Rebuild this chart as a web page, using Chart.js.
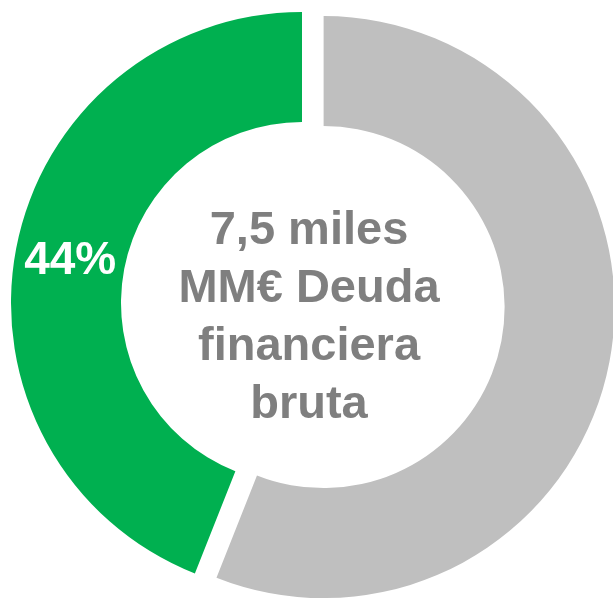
<!DOCTYPE html>
<html>
<head>
<meta charset="utf-8">
<script src="https://cdn.jsdelivr.net/npm/chart.js@4/dist/chart.umd.min.js"></script>
<style>
  html, body { margin: 0; padding: 0; background: #ffffff; }
  #wrap { width: 613px; height: 599px; position: relative; }
</style>
</head>
<body>
<div id="wrap"><canvas id="c"></canvas></div>
<script>
// Gross financial debt split (percent)
const categories = ['Tramo A', 'Tramo B'];
const shares = [44, 56];
const shownLabels = ['44%', ''];
const centerLines = ['7,5 miles', 'MM€ Deuda', 'financiera', 'bruta'];

const sliceColors = ['#00B050', '#BFBFBF'];
// how far each segment is pulled out from the centre, in px
const sliceShift = [0, 22];

// pull segments outward along their mid-angle without enlarging them
const explode = {
  id: 'explode',
  afterUpdate(chart) {
    const meta = chart.getDatasetMeta(0);
    meta.data.forEach((arc, i) => {
      const d = sliceShift[i];
      if (!d || arc._shifted) return;
      const baseDraw = arc.draw;
      arc.draw = function (ctx, area) {
        const mid = (this.startAngle + this.endAngle) / 2;
        ctx.save();
        ctx.translate(Math.cos(mid) * d, Math.sin(mid) * d);
        baseDraw.call(this, ctx, area);
        ctx.restore();
      };
      arc._shifted = true;
    });
  }
};

// value label inside each ring segment
const sliceLabels = {
  id: 'sliceLabels',
  afterDatasetsDraw(chart) {
    const ctx = chart.ctx;
    const meta = chart.getDatasetMeta(0);
    ctx.save();
    ctx.font = 'bold 46px "Liberation Sans", Arial, sans-serif';
    ctx.fillStyle = '#ffffff';
    ctx.textAlign = 'center';
    ctx.textBaseline = 'middle';
    meta.data.forEach((arc, i) => {
      if (!shownLabels[i]) return;
      const p = arc.tooltipPosition();
      ctx.fillText(shownLabels[i], p.x, p.y + 3);
    });
    ctx.restore();
  }
};

// title text in the hole of the ring
const centerText = {
  id: 'centerText',
  afterDraw(chart) {
    const ctx = chart.ctx;
    ctx.save();
    ctx.font = 'bold 47px "Liberation Sans", Arial, sans-serif';
    ctx.fillStyle = '#7F7F7F';
    ctx.textAlign = 'center';
    ctx.textBaseline = 'alphabetic';
    const lh = 58;
    const firstBase = 244;
    centerLines.forEach((t, i) => ctx.fillText(t, 309, firstBase + i * lh));
    ctx.restore();
  }
};

new Chart(document.getElementById('c'), {
  type: 'doughnut',
  data: {
    labels: categories,
    datasets: [{
      data: shares,
      backgroundColor: sliceColors,
      borderWidth: 0
    }]
  },
  options: {
    responsive: true,
    maintainAspectRatio: false,
    animation: false,
    rotation: 201.6,
    radius: 291,
    cutout: '62.2%',
    layout: { padding: { left: 0, right: 9, top: 7, bottom: 0 } },
    plugins: { legend: { display: false }, tooltip: { enabled: false } }
  },
  plugins: [explode, sliceLabels, centerText]
});
</script>
</body>
</html>
